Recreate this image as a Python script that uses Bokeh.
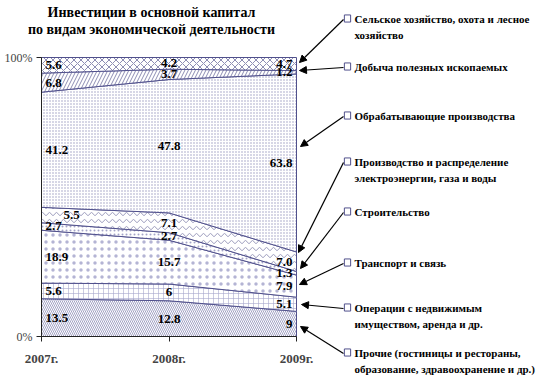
from bokeh.plotting import figure
from bokeh.models import FixedTicker, Label, Arrow, NormalHead, Range1d, LinearAxis
from bokeh.core.properties import value
from bokeh.embed import file_html
from bokeh.resources import INLINE

# ---- data ----
years = [2007, 2008, 2009]
year_labels = ["2007г.", "2008г.", "2009г."]

prochie = [13.5, 12.8, 9.0]
operacii = [5.6, 6.0, 5.1]
transport = [18.9, 15.7, 7.9]
stroitelstvo = [2.7, 2.7, 1.3]
energetika = [5.5, 7.1, 7.0]
obrabat = [41.2, 47.8, 63.8]
dobycha = [6.8, 3.7, 1.2]
selskoe = [5.6, 4.2, 4.7]

prochie_lbl = ["13.5", "12.8", "9"]
operacii_lbl = ["5.6", "6", "5.1"]
transport_lbl = ["18.9", "15.7", "7.9"]
stroitelstvo_lbl = ["2.7", "2.7", "1.3"]
energetika_lbl = ["5.5", "7.1", "7.0"]
obrabat_lbl = ["41.2", "47.8", "63.8"]
dobycha_lbl = ["6.8", "3.7", "1.2"]
selskoe_lbl = ["5.6", "4.2", "4.7"]

legend_names = [
    ["Сельское хозяйство, охота и лесное", "хозяйство"],
    ["Добыча полезных ископаемых"],
    ["Обрабатывающие производства"],
    ["Производство и распределение", "электроэнергии, газа и воды"],
    ["Строительство"],
    ["Транспорт и связь"],
    ["Операции с недвижимым", "имуществом, аренда и др."],
    ["Прочие (гостиницы и рестораны,", "образование, здравоохранение и др.)"],
]

title_lines = ["Инвестиции в основной капитал", "по видам экономической деятельности"]

y_ticks = [0, 100]
y_tick_labels = ["0%", "100%"]

# bottom -> top
series = [prochie, operacii, transport, stroitelstvo, energetika, obrabat, dobycha, selskoe]
labels = [prochie_lbl, operacii_lbl, transport_lbl, stroitelstvo_lbl, energetika_lbl,
          obrabat_lbl, dobycha_lbl, selskoe_lbl]

# ---- styles ----
LINE = "#50508c"
styles = [
    dict(hatch_pattern="\\", hatch_scale=4, hatch_color="#8c8cb6", hatch_weight=0.8),
    dict(hatch_pattern="+", hatch_scale=5, hatch_color="#a8a8cc", hatch_weight=0.6),
    dict(hatch_pattern=".", hatch_scale=7, hatch_color="#b4b4d4", hatch_weight=0.4),
    dict(hatch_pattern=".", hatch_scale=4, hatch_color="#a4a4c8", hatch_weight=0.4),
    dict(hatch_pattern="v", hatch_scale=7, hatch_color="#70709f", hatch_weight=0.7),
    dict(hatch_pattern=".", hatch_scale=3, hatch_color="#9a9ac0", hatch_weight=0.35),
    dict(hatch_pattern="/", hatch_scale=7, hatch_color="#70709f", hatch_weight=0.8),
    dict(hatch_pattern="x", hatch_scale=7, hatch_color="#70709f", hatch_weight=0.8),
]
legend_order = [7, 6, 5, 4, 3, 2, 1, 0]

SERIF = "Liberation Serif"

# plot-area geometry (pixels) inside a full-canvas frame
L, R, T, B = 41, 296, 57, 336
W, H = 540, 382


def dx(px):
    return 2007 + (px - L) / (R - L) * 2


def dy(py):
    return (B - py) / (B - T) * 100


p = figure(width=W, height=H, output_backend="svg", toolbar_location=None,
           x_range=Range1d(dx(0), dx(W)), y_range=Range1d(dy(H), dy(0)),
           min_border=0, x_axis_location=None, y_axis_location=None)
p.outline_line_color = None
p.grid.visible = False
p.background_fill_color = "white"
p.border_fill_color = "white"

# normalized cumulative stacks
totals = [sum(s[i] for s in series) for i in range(3)]
norm = [[s[i] / totals[i] * 100 for i in range(3)] for s in series]
lower = [0.0, 0.0, 0.0]
centers = []
for k, s in enumerate(norm):
    upper = [lower[i] + s[i] for i in range(3)]
    xs = years + years[::-1]
    ys = upper + lower[::-1]
    p.patch(xs, ys, fill_color="white", line_color=LINE, line_width=1, **styles[k])
    centers.append([(lower[i] + upper[i]) / 2 for i in range(3)])
    lower = upper

# data labels
offs = [[4, 0, -4] for _ in series]
offs[4][0] = 22
aligns = ["left", "center", "right"]
for i in range(3):
    p.text(x=[years[i]] * len(series), y=[c[i] for c in centers],
           text=[lb[i] for lb in labels], x_offset=[o[i] for o in offs],
           text_align=aligns[i], text_baseline="middle",
           text_font=value(SERIF), text_font_style="bold", text_font_size="13px",
           text_color="black")

# axes at fixed locations
xax = LinearAxis(fixed_location=0, bounds=(years[0], years[-1]))
xax.ticker = FixedTicker(ticks=years)
xax.major_label_overrides = {y: l for y, l in zip(years, year_labels)}
xax.major_label_text_font = SERIF
xax.major_label_text_font_style = "bold"
xax.major_label_text_font_size = "13px"
xax.major_label_standoff = 9
xax.major_tick_out = 5
xax.major_tick_in = 0
xax.minor_tick_line_color = None
xax.axis_line_color = "#222222"
xax.major_tick_line_color = "#222222"
p.add_layout(xax, "below")

yax = LinearAxis(fixed_location=years[0], bounds=(0, 100))
yax.ticker = FixedTicker(ticks=y_ticks)
yax.major_label_overrides = {t: l for t, l in zip(y_ticks, y_tick_labels)}
yax.major_label_text_font = SERIF
yax.major_label_text_font_size = "12px"
yax.major_label_standoff = 4
yax.major_tick_out = 5
yax.major_tick_in = 0
yax.minor_tick_line_color = None
yax.axis_line_color = "#222222"
yax.major_tick_line_color = "#222222"
p.add_layout(yax, "left")

# title
for j, t in enumerate(title_lines):
    p.add_layout(Label(x=dx(151), y=dy(12 + 17 * j), text=t, text_align="center",
                       text_baseline="middle", text_font=SERIF, text_font_style="bold",
                       text_font_size="14px", text_color="black"))

# legend with arrows
leg_y = [18, 66, 115, 161, 211, 262, 307, 352]
arrow_end = [(299, 62), (299, 70), (300, 146), (298, 252), (300, 268), (299, 284),
             (301, 304), (300, 326)]
for j, k in enumerate(legend_order):
    y0 = leg_y[j]
    for m, line in enumerate(legend_names[j]):
        p.add_layout(Label(x=dx(354), y=dy(y0 + 16 * m), text=line, text_align="left",
                           text_baseline="middle", text_font=SERIF,
                           text_font_style="bold", text_font_size="11px",
                           text_color="black"))
    p.add_layout(Label(x=dx(347), y=dy(y0), text=" ", text_align="center",
                       text_baseline="middle", text_font_size="1px",
                       padding=3, border_line_color=LINE, border_line_width=1,
                       background_fill_color="white"))
    ex, ey = arrow_end[j]
    p.add_layout(Arrow(x_start=dx(343), y_start=dy(y0 + 1), x_end=dx(ex), y_end=dy(ey),
                       line_color="black", line_width=1.2,
                       end=NormalHead(size=7, fill_color="black", line_color="black")))

open("out.html", "w").write(file_html(p, INLINE))
